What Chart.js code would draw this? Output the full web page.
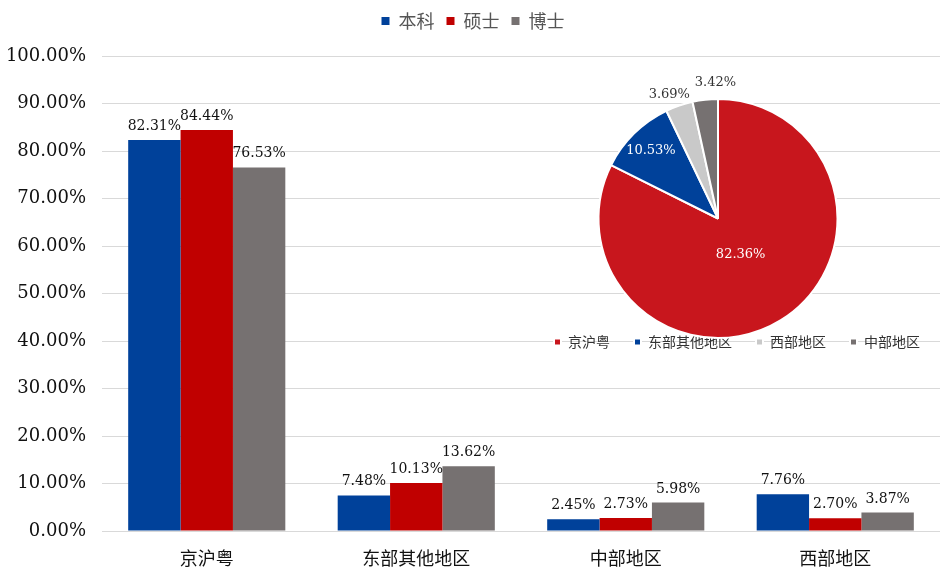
<!DOCTYPE html>
<html>
<head>
<meta charset="utf-8">
<script src="https://cdn.jsdelivr.net/npm/chart.js@4/dist/chart.umd.min.js"></script>
<style>
  html,body{margin:0;padding:0;background:#fff}
  #wrap{position:relative;width:940px;height:568px;overflow:hidden}
  #bar{position:absolute;left:0;top:0}
  #pie{position:absolute;left:488px;top:66px}
</style>
</head>
<body>
<div id="wrap">
  <canvas id="bar" width="940" height="568"></canvas>
  <canvas id="pie" width="460" height="321"></canvas>
</div>
<script>
// bar chart data
const CATS=['京沪粤','东部其他地区','中部地区','西部地区']
const BENKE=[82.31,7.48,2.45,7.76]
const SHUOSHI=[84.44,10.13,2.73,2.70]
const BOSHI=[76.53,13.62,5.98,3.87]
const Y_TICKS=[0,10,20,30,40,50,60,70,80,90,100]
// pie data
const PIE_LABELS=['京沪粤','东部其他地区','西部地区','中部地区']
const PIE_VALUES=[82.36,10.53,3.69,3.42]

const numFont='"DejaVu Serif", "Liberation Serif", serif'
const cjkFont='"Noto Sans CJK SC", sans-serif'
const pct=v=>v.toFixed(2)+'%'

const legendGap={id:'legendGap',afterInit(chart){
  const fit=chart.legend.fit
  chart.legend.fit=function(){fit.call(this);this.height+=16}
}}

const barLabels={id:'barLabels',afterDatasetsDraw(chart){
  const ctx=chart.ctx
  ctx.save()
  ctx.font='14px '+numFont
  ctx.fillStyle='#111'
  ctx.textAlign='center'
  ctx.textBaseline='alphabetic'
  chart.data.datasets.forEach((ds,i)=>{
    chart.getDatasetMeta(i).data.forEach((b,j)=>ctx.fillText(pct(ds.data[j]),b.x,b.y-10))
  })
  ctx.restore()
}}

new Chart(document.getElementById('bar'),{type:'bar',
  data:{labels:CATS,datasets:[
    {label:'本科',data:BENKE,backgroundColor:'#00419A'},
    {label:'硕士',data:SHUOSHI,backgroundColor:'#C00000'},
    {label:'博士',data:BOSHI,backgroundColor:'#767171'},
  ]},
  options:{responsive:false,animation:false,
    layout:{padding:{top:0,right:-6,left:0,bottom:0}},
    datasets:{bar:{categoryPercentage:0.75,barPercentage:1}},
    plugins:{tooltip:{enabled:false},
      legend:{position:'top',labels:{boxWidth:8,boxHeight:8,padding:12,color:'#555',font:{family:cjkFont,size:18}}}},
    scales:{
      x:{grid:{display:false},border:{color:'#D9D9D9'},
        ticks:{color:'#111',padding:8,font:{family:cjkFont,size:18}},
        afterFit:s=>{s.height=37}},
      y:{min:0,max:100,afterBuildTicks:s=>{s.ticks=Y_TICKS.map(v=>({value:v}))},
        grid:{color:'#D9D9D9',drawTicks:false},border:{display:false},
        ticks:{color:'#111',padding:16,font:{family:numFont,size:18},callback:v=>pct(v)},
        afterFit:s=>{s.width=102}}
    }},
  plugins:[legendGap,barLabels]
})

const PIE_POS=[0.36,0.8,1.1,1.14]
const PIE_DX=[0,0,-6,12]
const LEG_PAD=24
const pieLabels={id:'pieLabels',
  afterLayout(chart){
    const lg=chart.legend
    lg.top-=LEG_PAD+4;lg.bottom-=LEG_PAD+4
    lg.left-=4;lg.right-=4
  },
  afterDatasetsDraw(chart){
    const ctx=chart.ctx
    ctx.save()
    ctx.font='13px '+numFont
    ctx.textAlign='center'
    ctx.textBaseline='middle'
    chart.getDatasetMeta(0).data.forEach((a,i)=>{
      const ang=(a.startAngle+a.endAngle)/2, r=a.outerRadius*PIE_POS[i]
      ctx.fillStyle=PIE_POS[i]<1?'#fff':'#333'
      ctx.fillText(pct(PIE_VALUES[i]),a.x+Math.cos(ang)*r+PIE_DX[i],a.y+Math.sin(ang)*r)
    })
    ctx.restore()
  }}

new Chart(document.getElementById('pie'),{type:'pie',
  data:{labels:PIE_LABELS,datasets:[{data:PIE_VALUES,
    backgroundColor:['#C8161D','#00419A','#C9C9C9','#767171'],borderColor:'#fff',borderWidth:2,hoverOffset:0}]},
  options:{responsive:false,animation:false,
    layout:{padding:{top:32,bottom:0,left:0,right:0}},
    plugins:{tooltip:{enabled:false},
      legend:{position:'bottom',align:'end',labels:{boxWidth:7,boxHeight:7,padding:LEG_PAD,color:'#333',font:{family:cjkFont,size:14}}}}},
  plugins:[pieLabels]
})
</script>
</body>
</html>
